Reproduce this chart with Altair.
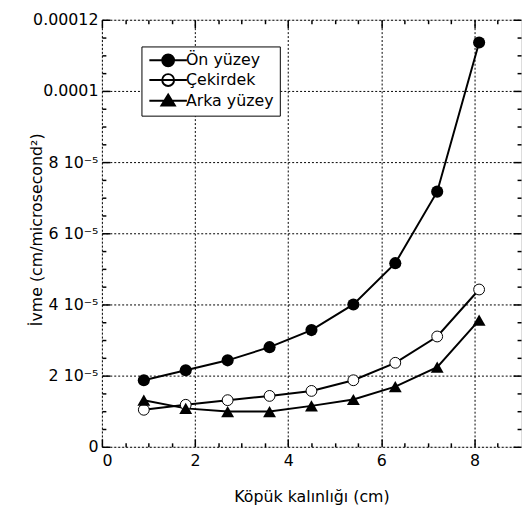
import altair as alt
import pandas as pd

# ---- data ----
thickness = [0.9, 1.8, 2.7, 3.6, 4.5, 5.4, 6.3, 7.2, 8.1]
on_yuzey = [1.87e-5, 2.15e-5, 2.43e-5, 2.80e-5, 3.28e-5, 4.00e-5, 5.16e-5, 7.17e-5, 11.36e-5]
cekirdek = [1.04e-5, 1.18e-5, 1.31e-5, 1.43e-5, 1.57e-5, 1.87e-5, 2.36e-5, 3.10e-5, 4.42e-5]
arka_yuzey = [1.31e-5, 1.08e-5, 0.99e-5, 0.99e-5, 1.15e-5, 1.33e-5, 1.69e-5, 2.24e-5, 3.56e-5]
series_names = ["Ön yüzey", "Çekirdek", "Arka yüzey"]

x_major = [0, 2, 4, 6, 8]
x_minor = [0.5, 1, 1.5, 2.5, 3, 3.5, 4.5, 5, 5.5, 6.5, 7, 7.5, 8.5]
y_major = [0, 2e-5, 4e-5, 6e-5, 8e-5, 1e-4, 1.2e-4]
y_minor = [0.5e-5, 1e-5, 1.5e-5, 2.5e-5, 3e-5, 3.5e-5, 4.5e-5, 5e-5, 5.5e-5,
           6.5e-5, 7e-5, 7.5e-5, 8.5e-5, 9e-5, 9.5e-5, 10.5e-5, 11e-5, 11.5e-5]
y_labels = ["0", "2 10⁻⁵", "4 10⁻⁵", "6 10⁻⁵", "8 10⁻⁵", "0.0001", "0.00012"]

rows = []
for name, vals in zip(series_names, [on_yuzey, cekirdek, arka_yuzey]):
    for xv, yv in zip(thickness, vals):
        rows.append({"series": name, "x": xv, "y": yv})
df = pd.DataFrame(rows)

FONT = "DejaVu Sans"
xs = alt.Scale(domain=[0, 9], nice=False, zero=False)
ys = alt.Scale(domain=[0, 1.2e-4], nice=False, zero=False)

label_map = "{" + ",".join(
    f"'{int(round(v * 1e6))}':'{l}'" for v, l in zip(y_major, y_labels)) + "}"

base = alt.Chart(df)


def tick_axis(orient, values, size):
    return alt.Axis(orient=orient, values=values, tickSize=size, offset=-size,
                    labels=False, domain=False, grid=False, title=None,
                    tickColor="black", tickWidth=1.5, ticks=True)


# labels + grid
lines = base.mark_line(color="black", strokeWidth=2).encode(
    x=alt.X("x:Q", scale=xs, axis=alt.Axis(
        orient="bottom", values=x_major, format="d", ticks=False, domain=False,
        grid=True, gridColor="black", gridDash=[2, 2], gridWidth=1,
        labelFont=FONT, labelFontSize=16, labelColor="black", labelPadding=6,
        title="Köpük kalınlığı (cm)", titleFont=FONT, titleFontSize=16,
        titleFontWeight="normal", titleColor="black", titlePadding=20)),
    y=alt.Y("y:Q", scale=ys, axis=alt.Axis(
        orient="left", values=y_major, ticks=False, domain=False,
        labelExpr=f"{label_map}['' + round(datum.value * 1000000)]",
        grid=True, gridColor="black", gridDash=[2, 2], gridWidth=1,
        labelFont=FONT, labelFontSize=16, labelColor="black", labelPadding=4,
        title="İvme (cm/microsecond²)", titleFont=FONT, titleFontSize=16,
        titleFontWeight="normal", titleColor="black",
        titleX=-66, titleY=212, titleBaseline="middle")),
    detail="series:N",
)

noaxis_x = alt.X("x:Q", scale=xs, axis=None)
noaxis_y = alt.Y("y:Q", scale=ys, axis=None)

pts_on = base.transform_filter(alt.datum.series == series_names[0]).mark_point(
    shape="circle", filled=True, fill="black", size=150, opacity=1).encode(x=noaxis_x, y=noaxis_y)
pts_cek = base.transform_filter(alt.datum.series == series_names[1]).mark_point(
    shape="circle", filled=True, fill="white", stroke="black", strokeWidth=1,
    size=120, opacity=1).encode(x=noaxis_x, y=noaxis_y)
pts_arka = base.transform_filter(alt.datum.series == series_names[2]).mark_point(
    shape="triangle-up", filled=True, fill="black", size=170, opacity=1).encode(x=noaxis_x, y=noaxis_y)

# tick-only axes (inward ticks via negative offset)
ticks_layers = []
for xo, yo, xv, yv, sz in [("bottom", "left", x_major, y_major, 8),
                           ("bottom", "left", x_minor, y_minor, 4),
                           ("top", "right", x_major, y_major, 8),
                           ("top", "right", x_minor, y_minor, 4)]:
    ticks_layers.append(base.mark_point(opacity=0).encode(
        x=alt.X("x:Q", scale=xs, axis=tick_axis(xo, xv, sz)),
        y=alt.Y("y:Q", scale=ys, axis=tick_axis(yo, yv, sz)),
    ))

# legend layer (no marks drawn)
circle_path = "M-1,0L5.33,0M3.17,0A1,1,0,1,1,1.17,0A1,1,0,1,1,3.17,0Z"
triangle_path = "M-1,0L5.33,0M2.17,-1.05L3.3,0.8L1.04,0.8Z"
leg = alt.Legend(orient="none", legendX=40, legendY=27, title=None, padding=6,
                 strokeColor="black", fillColor="white",
                 labelFont=FONT, labelFontSize=16, labelColor="black",
                 labelOffset=23, rowPadding=0, symbolSize=144,
                 symbolStrokeWidth=2, symbolOpacity=1)
legend_layer = base.transform_filter("false").mark_point(
    filled=True, strokeWidth=2).encode(
    shape=alt.Shape("series:N", scale=alt.Scale(domain=series_names,
                    range=[circle_path, circle_path, triangle_path]), legend=leg),
    fill=alt.Fill("series:N", scale=alt.Scale(domain=series_names,
                  range=["black", "white", "black"]), legend=leg),
    stroke=alt.Stroke("series:N", scale=alt.Scale(domain=series_names,
                      range=["black", "black", "black"]), legend=leg),
)

chart = alt.layer(lines, *ticks_layers, pts_on, pts_cek, pts_arka, legend_layer).resolve_axis(
    x="independent", y="independent"
).properties(
    width=424, height=432,
    autosize=alt.AutoSizeParams(type="none"),
    padding={"left": 95, "top": 9, "right": 2, "bottom": 58},
).configure_view(stroke="black", strokeWidth=1.5).configure(background="white")

chart.save("out.html", embed_options={"renderer": "svg", "actions": False})
